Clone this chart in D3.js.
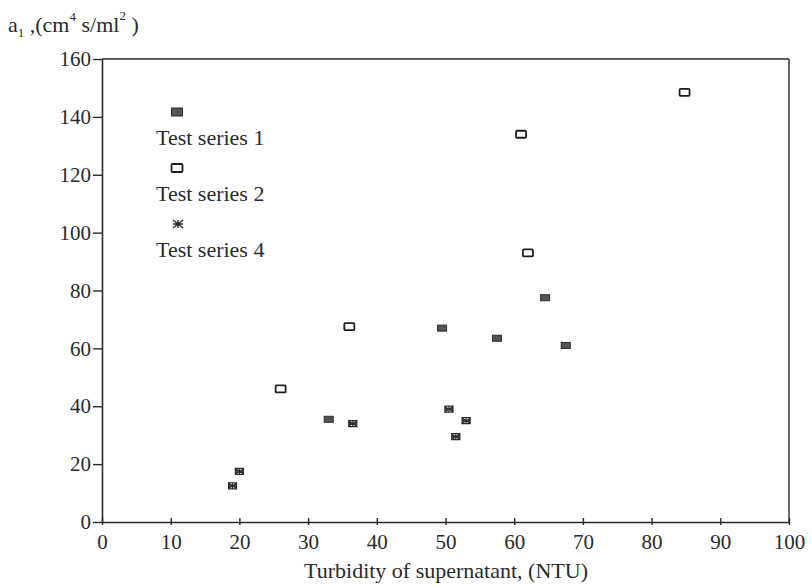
<!DOCTYPE html>
<html>
<head>
<meta charset="utf-8">
<script src="https://cdn.jsdelivr.net/npm/d3@7"></script>
<style>
  html, body { margin: 0; padding: 0; background: #fff; }
  svg { display: block; }
  text { font-family: "Liberation Serif", "DejaVu Serif", serif; fill: #2a2a2a; }
</style>
</head>
<body>
<svg id="chart" width="812" height="587"></svg>
<script>
// Turbidity of supernatant (NTU) vs a1 for three test series
const series1X = [33, 49.5, 57.5, 64.5, 67.5];
const series1Y = [35.5, 67, 63.5, 77.5, 61];
const series2X = [26, 36, 61, 62, 84.8];
const series2Y = [46, 67.5, 134, 93, 148.5];
const series4X = [19, 20, 36.5, 50.5, 53, 51.5];
const series4Y = [12.5, 17.5, 34, 39, 35, 29.5];
const xTicks = [0, 10, 20, 30, 40, 50, 60, 70, 80, 90, 100];
const yTicks = [0, 20, 40, 60, 80, 100, 120, 140, 160];
const legendLabels = ["Test series 1", "Test series 2", "Test series 4"];

const svg = d3.select("#chart");
const m = { left: 102, right: 789, top: 59, bottom: 522 };
const ink = "#2a2a2a";
const serif = "'Liberation Serif', 'DejaVu Serif', serif";

const x = d3.scaleLinear().domain([0, 100]).range([m.left, m.right]);
const y = d3.scaleLinear().domain([0, 160]).range([m.bottom, m.top]);

// frame: top and right borders
svg.append("line").attr("x1", m.left).attr("x2", m.right).attr("y1", m.top).attr("y2", m.top)
  .attr("stroke", ink).attr("stroke-width", 1.6);
svg.append("line").attr("x1", m.right).attr("x2", m.right).attr("y1", m.top).attr("y2", m.bottom)
  .attr("stroke", ink).attr("stroke-width", 1.4);

// y axis (ticks point outward)
const yAxis = svg.append("g").attr("transform", `translate(${m.left},0)`)
  .call(d3.axisLeft(y).tickValues(yTicks).tickSize(9).tickSizeOuter(0).tickPadding(2))
  .attr("font-family", serif).attr("font-size", 21);
yAxis.select(".domain").attr("stroke", ink).attr("stroke-width", 1.6);
yAxis.selectAll(".tick line").attr("stroke", ink).attr("stroke-width", 1.4);
yAxis.selectAll(".tick text").attr("fill", ink).style("font-family", serif).style("font-size", "21px");

// x axis (ticks straddle the axis line)
const xAxis = svg.append("g").attr("transform", `translate(0,${m.bottom})`)
  .call(d3.axisBottom(x).tickValues(xTicks).tickSize(3).tickSizeOuter(0).tickPadding(9))
  .attr("font-family", serif).attr("font-size", 21);
xAxis.select(".domain").attr("stroke", ink).attr("stroke-width", 1.6);
xAxis.selectAll(".tick line").attr("y1", -4).attr("y2", 3).attr("stroke", ink).attr("stroke-width", 1.4);
xAxis.selectAll(".tick text").attr("fill", ink).style("font-family", serif).style("font-size", "21px");

// axis titles
svg.append("text").attr("x", 446).attr("y", 578).attr("text-anchor", "middle")
  .style("font-size", "22px").text("Turbidity of supernatant, (NTU)");

const yt = svg.append("text").attr("x", 8).attr("y", 32).style("font-size", "22px");
yt.append("tspan").text("a");
yt.append("tspan").attr("dy", 5).style("font-size", "13px").text("1");
yt.append("tspan").attr("dy", -5).text(" ,(cm");
yt.append("tspan").attr("dy", -11).style("font-size", "13px").text("4");
yt.append("tspan").attr("dy", 11).text(" s/ml");
yt.append("tspan").attr("dy", -12).style("font-size", "13px").text("2");
yt.append("tspan").attr("dy", 12).text(" )");

// marker painters
function filledRect(g, cx, cy, w, h) {
  g.append("rect").attr("x", cx - w / 2).attr("y", cy - h / 2).attr("width", w).attr("height", h)
    .attr("fill", "#555").attr("stroke", "#2a2a2a").attr("stroke-width", 1);
}
function openRect(g, cx, cy, w, h) {
  g.append("rect").attr("x", cx - w / 2).attr("y", cy - h / 2).attr("width", w).attr("height", h)
    .attr("rx", 1).attr("fill", "#fff").attr("stroke", "#1e1e1e").attr("stroke-width", 1.8);
}
// bow-tie asterisk used for the plotted points
function bowtie(g, cx, cy, w, h) {
  const a = w / 2, b = h / 2;
  g.append("path")
    .attr("d", `M${cx - a},${cy - b}L${cx + a},${cy + b}L${cx + a},${cy - b}L${cx - a},${cy + b}Z`)
    .attr("fill", "#444").attr("stroke", "#2a2a2a").attr("stroke-width", 1.2);
  g.append("path")
    .attr("d", `M${cx},${cy - b}L${cx},${cy + b}M${cx - a - 0.5},${cy - b - 0.5}L${cx + a + 0.5},${cy - b - 0.5}` +
               `M${cx - a - 0.5},${cy + b + 0.5}L${cx + a + 0.5},${cy + b + 0.5}`)
    .attr("stroke", "#2a2a2a").attr("stroke-width", 1.2).attr("fill", "none");
}
// eight-armed asterisk used in the legend
function star(g, cx, cy, w, h) {
  const a = w / 2, b = h / 2;
  g.append("path")
    .attr("d", `M${cx - a},${cy - b}L${cx + a},${cy + b}M${cx - a},${cy + b}L${cx + a},${cy - b}` +
               `M${cx},${cy - b}L${cx},${cy + b}M${cx - a},${cy}L${cx + a},${cy}`)
    .attr("stroke", "#2a2a2a").attr("stroke-width", 1.5).attr("fill", "none");
}

const pts = svg.append("g");
series1X.forEach((v, i) => filledRect(pts, x(v), y(series1Y[i]), 9, 6));
series2X.forEach((v, i) => openRect(pts, x(v), y(series2Y[i]), 10, 7));
series4X.forEach((v, i) => bowtie(pts, x(v), y(series4Y[i]), 8, 5));

// legend
const lg = svg.append("g");
filledRect(lg, 177, 112, 11, 8);
openRect(lg, 177, 168, 11, 8);
star(lg, 178, 224, 10, 8);
[145, 201, 257].forEach((ty, i) => {
  lg.append("text").attr("x", 156).attr("y", ty).style("font-size", "22px").text(legendLabels[i]);
});
</script>
</body>
</html>
